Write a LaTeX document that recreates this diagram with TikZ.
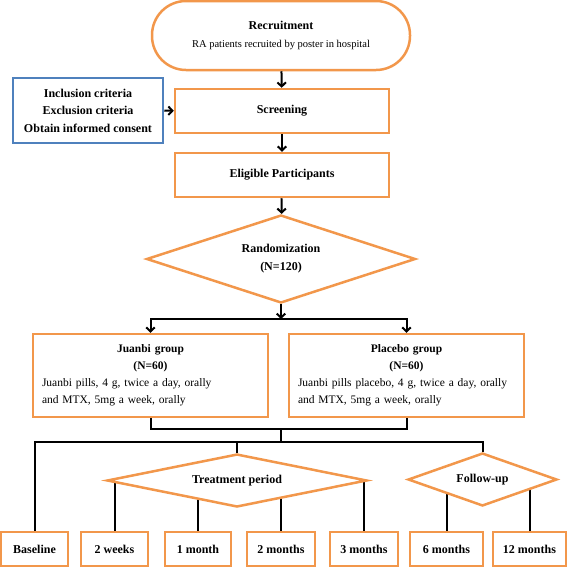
\documentclass[tikz,border=0pt]{standalone}
\usepackage{fontspec}
\setmainfont{Liberation Serif}
\usetikzlibrary{arrows.meta,shapes.geometric,backgrounds}
\definecolor{boxorange}{RGB}{242,151,75}
\definecolor{boxblue}{RGB}{79,129,189}
\tikzset{
	stepbox/.style={draw=boxorange, line width=2.5pt, fill=white, rectangle, inner sep=0pt, font=\bfseries\fontsize{12}{17}\selectfont, align=center},
	groupbox/.style={stepbox, minimum width=235pt, minimum height=83pt, text width=217pt, align=left, font=\fontsize{11.5}{17}\selectfont},
	timebox/.style={stepbox, minimum height=34pt},
	decision/.style={draw=boxorange, line width=2.5pt, fill=white, diamond, aspect=3, inner sep=0pt, font=\bfseries\fontsize{12}{18}\selectfont, align=center},
	link/.style={line width=2pt},
	flow/.style={link, ->, >={Straight Barb[length=4pt,width=8.5pt]}}
}
\newcommand{\midline}[1]{\hspace*{\fill}\textbf{#1}\hspace*{\fill}\null}

\begin{document}
\begin{tikzpicture}[x=1pt, y=-1pt]
	\useasboundingbox (0,0) rectangle (567,568);
	% enrolment
	\node[stepbox, rounded corners=34pt, minimum width=258pt, minimum height=69pt] (recruit) at (281,35.5) {Recruitment\\[1pt]{\mdseries\fontsize{10.5}{12}\selectfont RA patients recruited by poster in hospital}};
	\node[stepbox, minimum width=214pt, minimum height=44pt] (screen) at (282,111) {Screening};
	\node[stepbox, draw=boxblue, minimum width=150pt, minimum height=65pt, font=\bfseries\fontsize{12}{17.5}\selectfont] (crit) at (88,110.5) {Inclusion criteria\\Exclusion criteria\\Obtain informed consent};
	\node[stepbox, minimum width=214pt, minimum height=44pt] (elig) at (282,175) {Eligible Participants};
	\node[decision, minimum width=269pt, minimum height=88pt] (random) at (281,259) {Randomization\\(N=120)};
	% groups
	\node[groupbox] (juanbi) at (150.5,375.5) {\midline{Juanbi group}\\\midline{(N=60)}\\Juanbi pills, 4 g, twice a day, orally\\and MTX, 5mg a week, orally};
	\node[groupbox] (placebo) at (406.5,375.5) {\midline{Placebo group}\\\midline{(N=60)}\\Juanbi pills placebo, 4 g, twice a day, orally\\and MTX, 5mg a week, orally};
	% time points
	\node[decision, minimum width=260pt, minimum height=53pt] (treat) at (237,480.5) {Treatment period};
	\node[decision, minimum width=149pt, minimum height=53pt] (follow) at (482.5,479.5) {Follow-up};
	\node[timebox, minimum width=67pt] (base) at (34.5,549) {Baseline};
	\node[timebox, minimum width=67pt] (wk2) at (114.5,549) {2 weeks};
	\node[timebox, minimum width=66pt] (m1) at (198,549) {1 month};
	\node[timebox, minimum width=68pt] (m2) at (281,549) {2 months};
	\node[timebox, minimum width=68pt] (m3) at (364,549) {3 months};
	\node[timebox, minimum width=73pt] (m6) at (446.5,549) {6 months};
	\node[timebox, minimum width=73pt] (m12) at (529.5,549) {12 months};
	% connectors
	\draw[flow] (recruit) -- (screen);
	\draw[flow] (crit) -- (screen);
	\draw[flow] (screen) -- (elig);
	\draw[flow] (elig) -- (random);
	\coordinate (split) at (281,319);
	\draw[flow] (random.south) -- (split);
	\draw[flow] (split) -| (juanbi.north);
	\draw[flow] (split) -| (placebo.north);
	\coordinate (merge) at (281,429);
	\coordinate (fan) at (281,442);
	\draw[link] (juanbi.south) |- (merge) -| (placebo.south);
	\draw[link] (merge) -- (fan);
	\draw[link] (base.north) |- (fan) -| (follow.north);
	\draw[link] (treat.north) -- (treat.north |- fan);
	\begin{scope}[on background layer]
		\foreach \b in {wk2,m1,m2,m3}
			\draw[link] (\b.north) -- (\b.north |- treat.west);
		\foreach \b in {m6,m12}
			\draw[link] (\b.north) -- (\b.north |- follow.west);
	\end{scope}
\end{tikzpicture}
\end{document}
